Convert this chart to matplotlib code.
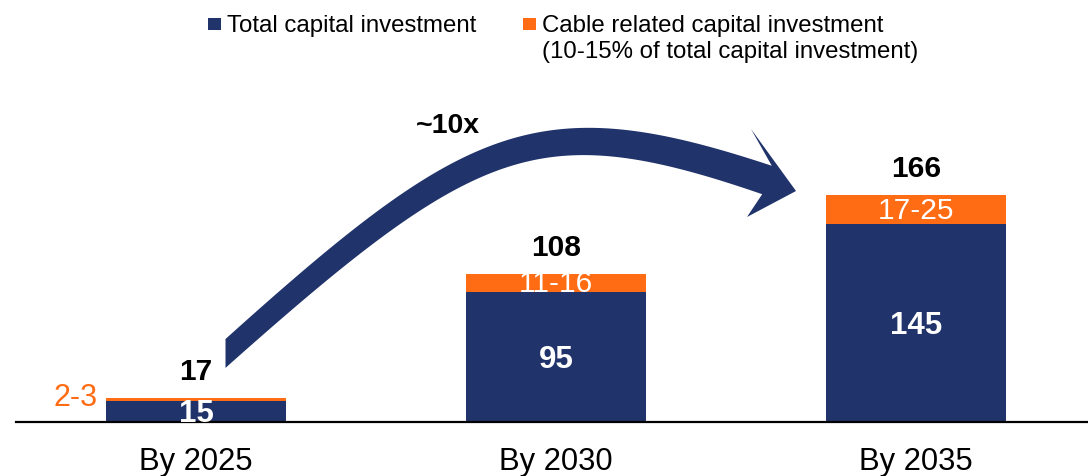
import numpy as np
import matplotlib
matplotlib.use("Agg")
import matplotlib.pyplot as plt
from matplotlib.patches import Rectangle, Polygon

plt.rcParams['font.family'] = ['Liberation Sans', 'DejaVu Sans']

# ---- data (USD bn) ----
periods = ["By 2025", "By 2030", "By 2035"]
total_investment = [15, 95, 145]          # navy segment
overall_totals = [17, 108, 166]           # stacked total shown above each bar
cable_ranges = ["2-3", "11-16", "17-25"]  # cable related range labels
growth_label = "~10x"

legend_total = "Total capital investment"
legend_cable_1 = "Cable related capital investment"
legend_cable_2 = "(10-15% of total capital investment)"

NAVY = "#20336A"
ORANGE = "#FF6C13"

W, H = 1088, 476
fig = plt.figure(figsize=(W / 100, H / 100), dpi=100)
ax = fig.add_axes([16 / W, 54.5 / H, 1 - 16 / W, 421.5 / H])

x = np.arange(len(periods))
base = np.array(total_investment, float)
cable = np.array(overall_totals, float) - base

ax.bar(x, base, width=0.5, color=NAVY, zorder=2)
ax.bar(x, cable, width=0.5, bottom=base, color=ORANGE, zorder=2)

ax.set_xlim(-0.5, 2.478)
ax.set_ylim(0, 309.5)
for side in ("top", "right", "left"):
    ax.spines[side].set_visible(False)
ax.spines["bottom"].set_linewidth(1.6)
ax.spines["bottom"].set_color("black")
ax.set_xticks([])
ax.set_yticks([])

# category labels under the axis line
for i, lab in enumerate(periods):
    ax.annotate(lab, (i, 0), xytext=(0, -35), textcoords="offset points",
                ha="center", va="baseline", fontsize=22.3, color="black",
                annotation_clip=False)

# totals above the bars
for i, tot in enumerate(overall_totals):
    ax.annotate(f"{tot}", (i, tot), xytext=(0, 13.5), textcoords="offset points",
                ha="center", va="baseline", fontsize=21.5, fontweight="bold",
                color="black")

# values inside the navy segments
for i, v in enumerate(total_investment):
    ax.annotate(f"{v}", (i, v / 2), xytext=(0, -2.2), textcoords="offset points",
                ha="center", va="center", fontsize=22.5, fontweight="bold",
                color="white", zorder=3)

# cable ranges: inside the orange segment where it fits, beside it otherwise
for i, lab in enumerate(cable_ranges):
    mid = base[i] + cable[i] / 2
    if cable[i] < 5:
        ax.annotate(lab, (i - 0.25, mid), xytext=(-6, 1), textcoords="offset points",
                    ha="right", va="center", fontsize=22, color=ORANGE)
    else:
        ax.annotate(lab, (i, mid), xytext=(0, -0.8), textcoords="offset points",
                    ha="center", va="center", fontsize=21.5, color="white",
                    zorder=3)

# ---- curved growth arrow (built in figure pixels, top-down) ----
def cubic(p, t):
    p = np.asarray(p, float)
    t = t[:, None]
    return ((1 - t) ** 3 * p[0] + 3 * (1 - t) ** 2 * t * p[1]
            + 3 * (1 - t) * t ** 2 * p[2] + t ** 3 * p[3])

def cubic_d(p, t):
    p = np.asarray(p, float)
    t = t[:, None]
    return (3 * (1 - t) ** 2 * (p[1] - p[0]) + 6 * (1 - t) * t * (p[2] - p[1])
            + 3 * t ** 2 * (p[3] - p[2]))

ctrl = [(225.5, 353.5), (473, 132), (539, 103), (767, 180)]
t = np.linspace(-0.06, 1.0, 300)
c = cubic(ctrl, t)
d = cubic_d(ctrl, t)
d /= np.linalg.norm(d, axis=1)[:, None]
n = np.column_stack([d[:, 1], -d[:, 0]])
w = 21.5 + (30 - 21.5) * np.clip(t, 0, 1)
top = c + n * (w / 2)[:, None]
bot = c - n * (w / 2)[:, None]

# vertical cut at the tail
x_cut = 225.5
def cut(edge):
    keep = edge[:, 0] >= x_cut
    y0 = np.interp(x_cut, edge[:, 0][:40], edge[:, 1][:40])
    return np.vstack([[x_cut, y0], edge[keep]])

top = cut(top)
bot = cut(bot)
head = np.array([(751, 129), (796, 191), (747, 217)], float)
outline = np.vstack([top, head, bot[::-1]])
disp = np.column_stack([outline[:, 0], H - outline[:, 1]])
outline_data = ax.transData.inverted().transform(disp)
ax.add_patch(Polygon(outline_data, closed=True, facecolor=NAVY,
                     edgecolor="none", clip_on=False, zorder=1))

fig.text(448 / W, 1 - 126 / H, growth_label, ha="center", va="center",
         fontsize=20.5, fontweight="bold", color="black")

# ---- legend ----
fig.add_artist(Rectangle((208 / W, 1 - 30 / H), 13 / W, 12 / H,
                         transform=fig.transFigure, facecolor=NAVY, edgecolor="none"))
fig.text(227 / W, 1 - 32 / H, legend_total, ha="left", va="baseline",
         fontsize=17.3, color="black")
fig.add_artist(Rectangle((523 / W, 1 - 30 / H), 13 / W, 12 / H,
                         transform=fig.transFigure, facecolor=ORANGE, edgecolor="none"))
fig.text(542 / W, 1 - 32 / H, legend_cable_1, ha="left", va="baseline",
         fontsize=17.3, color="black")
fig.text(542 / W, 1 - 58 / H, legend_cable_2, ha="left", va="baseline",
         fontsize=17.3, color="black")

fig.savefig("out.png", dpi=100)
